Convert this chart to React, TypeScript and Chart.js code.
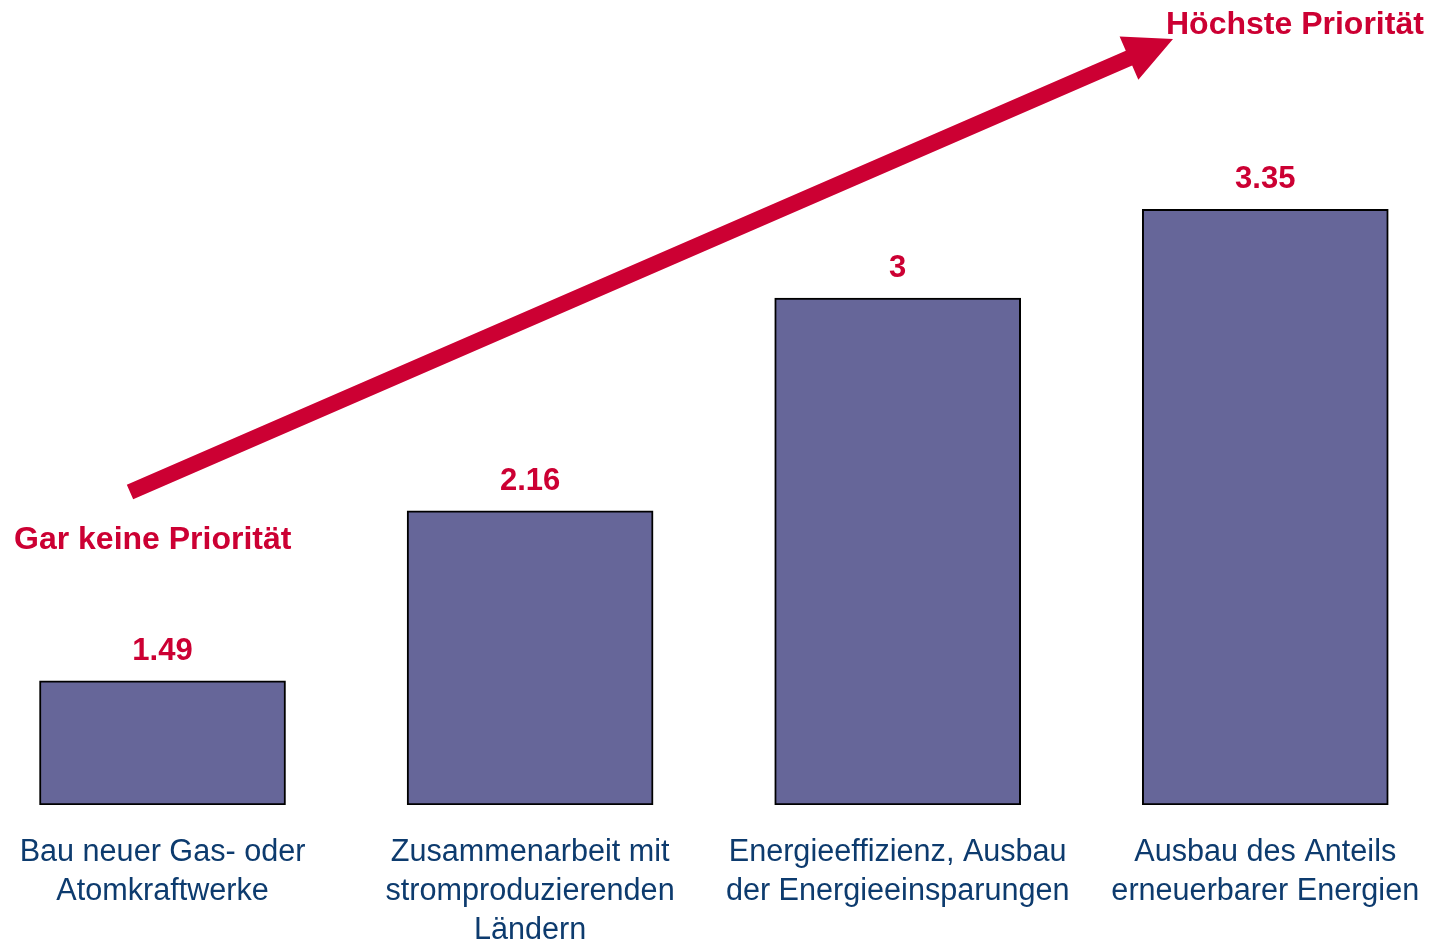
import React, { useEffect, useRef } from "react";
import { Chart, registerables } from "chart.js";

Chart.register(...registerables);

// ---- data ----
const categories: string[][] = [
  ["Bau neuer Gas- oder", "Atomkraftwerke"],
  ["Zusammenarbeit mit", "stromproduzierenden", "Ländern"],
  ["Energieeffizienz, Ausbau", "der Energieeinsparungen"],
  ["Ausbau des Anteils", "erneuerbarer Energien"],
];
const values: number[] = [1.49, 2.16, 3, 3.35];
const positions: number[] = [0, 1, 2, 3];
const yMin = 1;
const yMax = 4;
const lowLabel = "Gar keine Priorität";
const highLabel = "Höchste Priorität";

// ---- style ----
const FONT = '"Liberation Sans", Arial, sans-serif';
const RED = "#CC0033";
const NAVY = "#0D3B6E";
const BAR = "#666699";

const valueLabelPlugin = {
  id: "valueLabels",
  afterDatasetsDraw(chart: any) {
    const ctx = chart.ctx;
    const meta = chart.getDatasetMeta(0);
    ctx.save();
    ctx.font = `bold 31px ${FONT}`;
    ctx.fillStyle = RED;
    ctx.textAlign = "center";
    ctx.textBaseline = "alphabetic";
    meta.data.forEach((el: any, i: number) => {
      ctx.fillText(String(values[i]), el.x, el.y - 21);
    });
    ctx.restore();
  },
};

const arrowPlugin = {
  id: "priorityArrow",
  afterDraw(chart: any) {
    const ctx = chart.ctx;
    const tail = { x: 130, y: 492 };
    const tip = { x: 1173, y: 39 };
    const dx = tip.x - tail.x;
    const dy = tip.y - tail.y;
    const len = Math.hypot(dx, dy);
    const ux = dx / len;
    const uy = dy / len;
    const px = -uy;
    const py = ux;
    const headLen = 48;
    const headHalf = 23.5;
    const shaftHalf = 8;
    const bx = tip.x - ux * headLen;
    const by = tip.y - uy * headLen;
    ctx.save();
    ctx.fillStyle = RED;
    ctx.beginPath();
    ctx.moveTo(tail.x + px * shaftHalf, tail.y + py * shaftHalf);
    ctx.lineTo(bx + px * shaftHalf, by + py * shaftHalf);
    ctx.lineTo(bx + px * headHalf, by + py * headHalf);
    ctx.lineTo(tip.x, tip.y);
    ctx.lineTo(bx - px * headHalf, by - py * headHalf);
    ctx.lineTo(bx - px * shaftHalf, by - py * shaftHalf);
    ctx.lineTo(tail.x - px * shaftHalf, tail.y - py * shaftHalf);
    ctx.closePath();
    ctx.fill();

    ctx.font = `bold 32px ${FONT}`;
    ctx.textBaseline = "alphabetic";
    ctx.textAlign = "left";
    ctx.fillText(highLabel, 1166, 34);
    ctx.fillText(lowLabel, 14, 549);
    ctx.restore();
  },
};

export default function App() {
  const ref = useRef<HTMLCanvasElement | null>(null);

  useEffect(() => {
    if (!ref.current) return;
    const chart = new Chart(ref.current, {
      type: "bar",
      data: {
        datasets: [
          {
            data: positions.map((p, i) => ({ x: p, y: values[i] })),
            backgroundColor: BAR,
            borderColor: "#000000",
            borderWidth: 2,
            borderSkipped: false,
            barThickness: 246,
            base: yMin,
          } as any,
        ],
      },
      options: {
        animation: false,
        responsive: false,
        layout: { padding: { top: 44.5, left: 0, right: 0, bottom: 0 } },
        plugins: {
          legend: { display: false },
          tooltip: { enabled: false },
        },
        scales: {
          x: {
            type: "linear",
            offset: false,
            min: -0.4421,
            max: 3.4481,
            grid: { display: false, drawTicks: false, offset: false },
            border: { display: false },
            afterBuildTicks: (scale: any) => {
              scale.ticks = positions.map((p) => ({ value: p }));
            },
            afterFit: (scale: any) => {
              scale.height = 137;
              scale.paddingLeft = 0;
              scale.paddingRight = 0;
            },
            ticks: {
              autoSkip: false,
              maxRotation: 0,
              minRotation: 0,
              padding: 28,
              color: NAVY,
              font: { family: FONT, size: 30.6, lineHeight: 1.275 },
              callback: (value: any) => categories[Math.round(Number(value))] ?? "",
            },
          },
          y: {
            display: false,
            min: yMin,
            max: yMax,
          },
        },
      } as any,
      plugins: [valueLabelPlugin, arrowPlugin],
    });
    return () => chart.destroy();
  }, []);

  return (
    <div style={{ position: "fixed", left: 0, top: 0, width: 1430, height: 942, background: "#fff" }}>
      <canvas ref={ref} width={1430} height={942} style={{ display: "block" }} />
    </div>
  );
}
